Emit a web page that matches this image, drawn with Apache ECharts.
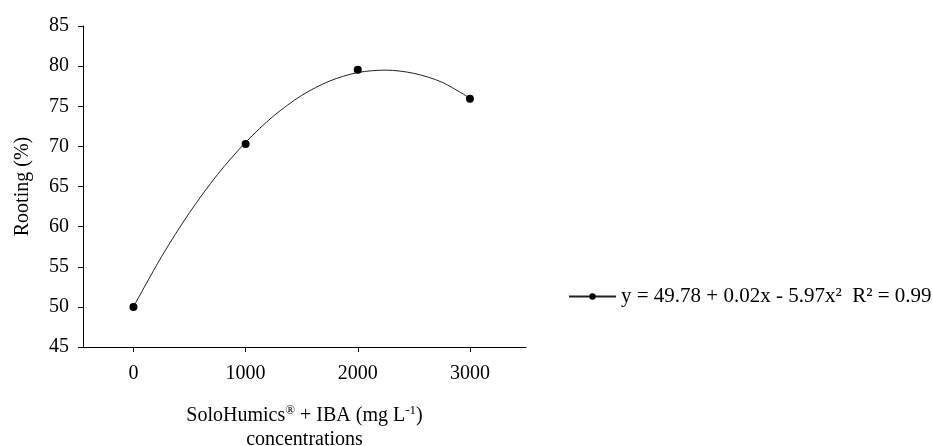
<!DOCTYPE html>
<html>
<head>
<meta charset="utf-8">
<title>Rooting</title>
<script src="https://cdn.jsdelivr.net/npm/echarts@6/dist/echarts.min.js"></script>
<style>
  html, body { margin: 0; padding: 0; background: #fff; }
  #chart { width: 933px; height: 446px; }
</style>
</head>
<body>
<div id="chart"></div>
<script>
// observed means
var doses = [0, 1000, 2000, 3000];
var rooting = [50.0, 70.3, 79.55, 75.95];

// fitted curve
var curveX = [0, 250, 500, 750, 1000, 1250, 1500, 1750, 2000, 2250, 2500, 2750, 3000];
var curveY = [50.0, 56.25, 61.75, 66.5, 70.5, 73.8, 76.35, 78.15, 79.2, 79.5, 79.1, 78.0, 76.0];

var xTicks = [0, 1000, 2000, 3000];
var legendText = "y = 49.78 + 0.02x - 5.97x\u00b2  R\u00b2 = 0.99";

var font = "'Liberation Serif', 'Times New Roman', serif";

var chart = echarts.init(document.getElementById("chart"));

var option = {
  animation: false,
  backgroundColor: "#fff",
  textStyle: { fontFamily: font, color: "#000" },
  grid: { left: 83, right: 407, top: 26, bottom: 99, outerBoundsMode: "none" },
  legend: {
    data: [legendText],
    left: 563,
    top: 281,
    itemWidth: 47,
    itemHeight: 8,
    textStyle: { fontFamily: font, fontSize: 21, color: "#000" },
  },
  xAxis: {
    type: "value",
    min: -450,
    max: 3500,
    splitLine: { show: false },
    axisLine: { onZero: false, lineStyle: { color: "#000", width: 1 } },
    axisTick: { customValues: xTicks, length: 5, lineStyle: { color: "#000" } },
    axisLabel: {
      customValues: xTicks,
      formatter: function (v) { return String(v); },
      fontFamily: font, fontSize: 20, color: "#000", margin: 17,
    },
    name: "SoloHumics{sup|\u00ae} + IBA (mg L{sup|-1})\nconcentrations",
    nameLocation: "middle",
    nameGap: 57,
    nameTextStyle: {
      fontFamily: font, fontSize: 20, color: "#000", lineHeight: 24,
      rich: {
        sup: { fontFamily: font, fontSize: 13, color: "#000", verticalAlign: "top", lineHeight: 24 },
      },
    },
  },
  yAxis: {
    type: "value",
    min: 45,
    max: 85,
    interval: 5,
    splitLine: { show: false },
    axisLine: { show: true, onZero: false, lineStyle: { color: "#000", width: 1 } },
    axisTick: { show: true, length: 5, lineStyle: { color: "#000" } },
    axisLabel: { fontFamily: font, fontSize: 20, color: "#000", margin: 14 },
    name: "Rooting (%)",
    nameLocation: "middle",
    nameGap: 50,
    nameTextStyle: { fontFamily: font, fontSize: 20, color: "#000" },
  },
  series: [
    {
      name: legendText,
      type: "line",
      smooth: 0.3,
      symbol: "circle",
      symbolSize: 8,
      showSymbol: false,
      itemStyle: { color: "#000" },
      lineStyle: { color: "#222", width: 1 },
      data: curveX.map(function (x, i) { return [x, curveY[i]]; }),
      z: 2,
    },
    {
      name: "points",
      type: "scatter",
      symbol: "circle",
      symbolSize: 8,
      itemStyle: { color: "#000", opacity: 1 },
      data: doses.map(function (x, i) { return [x, rooting[i]]; }),
      z: 3,
    },
  ],
};

try {
  chart.setOption(option);
} catch (error) {
  console.log(error);
}
</script>
</body>
</html>
